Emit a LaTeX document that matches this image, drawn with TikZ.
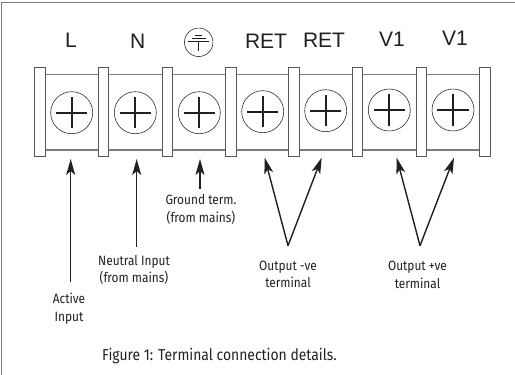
\documentclass[tikz,border=0pt]{standalone}
\usepackage{fontspec}
\setmainfont{Liberation Sans}
\newfontfamily\labelfont[FakeStretch=0.88]{Fira Sans}
\usetikzlibrary{arrows.meta}
\definecolor{edge}{RGB}{125,125,125}
\definecolor{ink}{RGB}{35,31,32}
\tikzset{
 x=1pt,y=-1pt,
 frameline/.style={draw=edge,line width=1.2pt},
 barrier/.style={rectangle,draw=ink!75,fill=white,line width=0.8pt,minimum width=10.5pt,minimum height=88.5pt,inner sep=0pt},
 rail/.style={draw=edge,line width=1.2pt},
 screw/.style={circle,draw=ink,line width=0.55pt,fill=white,minimum size=42pt,inner sep=0pt},
 slot/.style={draw=ink,line width=2pt},
 pointer/.style={draw=ink,line width=1.4pt,-{Stealth[length=16pt,width=9pt,inset=4pt]}},
 termname/.style={font=\fontsize{21}{24}\selectfont,text=ink,inner sep=0pt},
 note/.style={font=\labelfont\fontsize{13.5}{17.5}\selectfont,text=ink,align=center,inner sep=0pt},
 caption/.style={font=\labelfont\fontsize{15.8}{18}\selectfont,text=ink,inner sep=0pt}
}
\begin{document}
\begin{tikzpicture}
\useasboundingbox (0,0) rectangle (515,375);
\draw[frameline] (1.5,375) -- (1.5,2.5) -- (515,2.5);
% rails
\draw[rail] (40,74.7) -- (484,74.7) (40,150) -- (484,150);
% barriers
\foreach \x/\n in {39.8/a,103.3/b,167.2/c,230.7/d,294/e,357.6/f,421.2/g,484.7/h}{
  \node[barrier] (bar\n) at (\x,111.8) {};
}
% screws
\foreach \n/\x/\y in {s1/71.7/112.7,s2/135.3/112.7,s3/199.3/112.7,s4/262.7/111.7,s5/325.7/110.7,s6/389.3/110,s7/453/110}{
  \node[screw] (\n) at (\x,\y) {};
  \draw[slot] ([xshift=-15.7pt]\n.center) -- ([xshift=15.7pt]\n.center);
  \draw[slot] ([yshift=-15.7pt]\n.center) -- ([yshift=15.7pt]\n.center);
}
% terminal names
\node[termname] (tL) at (71,40.7) {L};
\node[termname] (tN) at (137.7,41.7) {N};
\node[circle,draw=ink,line width=0.55pt,minimum size=28.5pt,inner sep=0pt] (gnd) at (198.7,42.3) {};
\draw[ink,line width=0.6pt] ([xshift=-10.5pt,yshift=1.5pt]gnd.center) -- ([xshift=10.5pt,yshift=1.5pt]gnd.center);
\draw[ink,line width=0.6pt] ([xshift=-7pt,yshift=4.5pt]gnd.center) -- ([xshift=7pt,yshift=4.5pt]gnd.center);
\draw[ink,line width=0.6pt] ([xshift=-3.5pt,yshift=7pt]gnd.center) -- ([xshift=3.5pt,yshift=7pt]gnd.center);
\draw[ink,line width=0.6pt] ([yshift=-9pt]gnd.center) -- ([yshift=1.5pt]gnd.center);
\node[termname] (r1) at (266,41.7) {RET};
\node[termname] (r2) at (324,40) {RET};
\node[termname] (v1) at (392,39.5) {V1};
\node[termname] (v2) at (455,38) {V1};
% labels
\node[note] (active) at (69,308.5) {Active\\Input};
\node[note] (neutral) at (134,270) {Neutral Input\\(from mains)};
\node[note] (ground) at (201,209.5) {Ground term.\\(from mains)};
\node[note] (minus) at (288,274.2) {Output -ve\\ terminal};
\node[note] (plus) at (417.5,274.7) {Output +ve\\ terminal};
\node[caption,anchor=west] (cap) at (102,356) {Figure 1: Terminal connection details.};
% pointers
\coordinate (activeTail) at (70.7,282.3);
\coordinate (activeHead) at (70.7,159);
\coordinate (neutralTail) at (136.7,246.7);
\coordinate (neutralHead) at (136.7,159);
\coordinate (groundTail) at (200,189);
\coordinate (groundHead) at (200,159);
\coordinate (minusApex) at (288,245.7);
\coordinate (minusA) at (264.7,157.7);
\coordinate (minusB) at (321.7,157.7);
\coordinate (plusApex) at (420,245.7);
\coordinate (plusA) at (396.7,157.7);
\coordinate (plusB) at (454,157.7);
\draw[pointer] (activeTail) -- (activeHead);
\draw[pointer] (neutralTail) -- (neutralHead);
\draw[pointer] (groundTail) -- (groundHead);
\draw[pointer] (minusApex) -- (minusA);
\draw[pointer] (minusApex) -- (minusB);
\draw[pointer] (plusApex) -- (plusA);
\draw[pointer] (plusApex) -- (plusB);
\end{tikzpicture}
\end{document}
